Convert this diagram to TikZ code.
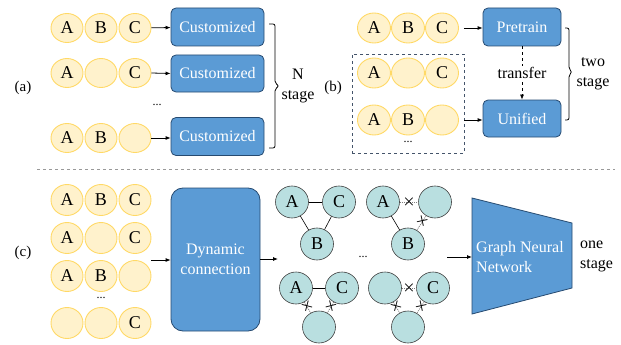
\documentclass[tikz,border=0pt]{standalone}
\usepackage{fontspec}
\setmainfont{Liberation Serif}
\usetikzlibrary{shapes.geometric,arrows.meta}
\definecolor{yfill}{HTML}{FFF2CC}
\definecolor{ydraw}{HTML}{FFD966}
\definecolor{bfill}{HTML}{5B9BD5}
\definecolor{bdraw}{HTML}{264A70}
\definecolor{tfill}{HTML}{B9DFE0}
\definecolor{tdraw}{HTML}{404040}
\definecolor{navy}{HTML}{44546A}
\tikzset{
  ycirc/.style={ellipse, fill=yfill, draw=ydraw, line width=0.9pt, minimum width=32pt, minimum height=29pt, inner sep=0pt, font=\rmfamily\fontsize{18}{20}\selectfont},
  bbox/.style={rectangle, rounded corners=5pt, fill=bfill, draw=bdraw, line width=0.8pt, text=white, font=\rmfamily\fontsize{16}{18}\selectfont, inner sep=0pt},
  tcirc/.style={ellipse, fill=tfill, draw=tdraw, line width=0.6pt, minimum width=33pt, minimum height=32pt, inner sep=0pt, font=\rmfamily\fontsize{18}{20}\selectfont},
  arr/.style={-{Latex[length=5pt,width=4pt]}, line width=0.8pt},
  lbl/.style={font=\rmfamily\fontsize{16}{20}\selectfont, inner sep=0pt, align=center},
  plbl/.style={font=\rmfamily\fontsize{15}{18}\selectfont, inner sep=0pt},
  dotsl/.style={font=\rmfamily\fontsize{12}{14}\selectfont, inner sep=0pt},
  sol/.style={draw=black, line width=0.6pt},
  cut/.style={draw=gray, dash pattern=on 1pt off 1pt, line width=0.8pt},
  xmark/.style={sloped, inner sep=0pt, font=\fontsize{14}{14}\selectfont},
  brk/.style={draw=black, line width=0.8pt, rounded corners=2pt},
}
\newcommand{\cutx}{$\boldsymbol{\times}$}
\usepackage{amsmath}
\begin{document}
\begin{tikzpicture}[x=1pt,y=-1pt]
\useasboundingbox (0,0) rectangle (621,345);
% ---------- (a)
\node[plbl] (la) at (23,88) {(a)};
\node[ycirc] (a1A) at (67,28) {A};
\node[ycirc] (a1B) at (101,28) {B};
\node[ycirc] (a1C) at (135,28) {C};
\node[ycirc] (a2A) at (67,73) {A};
\node[ycirc] (a2B) at (101,73) {};
\node[ycirc] (a2C) at (135,73) {C};
\node[ycirc] (a3A) at (67,138) {A};
\node[ycirc] (a3B) at (101,138) {B};
\node[ycirc] (a3C) at (135,138) {};
\node[dotsl] (adots) at (157,105) {...};
\node[bbox, minimum width=93pt, minimum height=38pt] (c1) at (217.5,27) {Customized};
\node[bbox, minimum width=93pt, minimum height=37pt] (c2) at (217.5,73.5) {Customized};
\node[bbox, minimum width=93pt, minimum height=38pt] (c3) at (217.5,136.5) {Customized};
\draw[arr] (a1C) -- (c1);
\draw[arr] (a2C.east) -- (c2.west);
\draw[arr] (a3C.east) -- (c3.west |- a3C.east);
\draw[brk] (269,24) -- (275,24) -- (275,83) -- (279,86) -- (275,89) -- (275,148) -- (269,148);
\node[lbl] (na) at (298,86) {N\\stage};
% ---------- (b)
\node[plbl] (lb) at (333,88) {(b)};
\node[ycirc, minimum width=33pt, minimum height=30pt] (b1A) at (374,28) {A};
\node[ycirc, minimum width=33pt, minimum height=30pt] (b1B) at (408,28) {B};
\node[ycirc, minimum width=33pt, minimum height=30pt] (b1C) at (442,28) {C};
\node[ycirc, minimum width=33pt, minimum height=30pt] (b2A) at (374,73) {A};
\node[ycirc, minimum width=33pt, minimum height=30pt] (b2B) at (408,73) {};
\node[ycirc, minimum width=33pt, minimum height=30pt] (b2C) at (442,73) {C};
\node[ycirc, minimum width=33pt, minimum height=30pt] (b3A) at (374,120) {A};
\node[ycirc, minimum width=33pt, minimum height=30pt] (b3B) at (408,120) {B};
\node[ycirc, minimum width=33pt, minimum height=30pt] (b3C) at (442,120) {};
\node[dotsl] (bdots) at (408,142) {...};
\node[draw=navy, dashed, line width=0.9pt, minimum width=112pt, minimum height=99pt, inner sep=0pt] (dbox) at (408,103.5) {};
\node[bbox, minimum width=78pt, minimum height=38pt] (pre) at (522,27) {Pretrain};
\node[bbox, minimum width=78pt, minimum height=37pt] (uni) at (522,118.5) {Unified};
\draw[arr] (b1C.east) ++(5,0) coordinate (b1s) (b1s) -- (pre.west |- b1s);
\draw[arr] (dbox.east |- b3C) -- (uni.west |- b3C);
\draw[arr, dashed, line width=0.7pt] (pre.south) -- (uni.north);
\node[lbl, fill=white, inner sep=1pt] (tr) at (522,73) {transfer};
\draw[brk] (565,28) -- (569,28) -- (569,69) -- (572,72) -- (569,75) -- (569,120) -- (565,120);
\node[lbl] (nb) at (593,74) {two\\stage};
% ---------- separator
\draw[dashed, draw=gray!80, line width=0.9pt] (37,169) -- (615,169);
% ---------- (c)
\node[plbl] (lc) at (23,253) {(c)};
\node[ycirc, minimum height=31pt] (r1A) at (67,200) {A};
\node[ycirc, minimum height=31pt] (r1B) at (101,200) {B};
\node[ycirc, minimum height=31pt] (r1C) at (135,200) {C};
\node[ycirc, minimum height=31pt] (r2A) at (67,238) {A};
\node[ycirc, minimum height=31pt] (r2B) at (101,238) {};
\node[ycirc, minimum height=31pt] (r2C) at (135,238) {C};
\node[ycirc, minimum height=31pt] (r3A) at (67,276) {A};
\node[ycirc, minimum height=31pt] (r3B) at (101,276) {B};
\node[ycirc, minimum height=31pt] (r3C) at (135,276) {};
\node[dotsl] (cdots) at (101,298) {...};
\node[ycirc, minimum height=31pt] (r4A) at (67,323) {};
\node[ycirc, minimum height=31pt] (r4B) at (101,323) {};
\node[ycirc, minimum height=31pt] (r4C) at (135,323) {C};
\node[bbox, rounded corners=12pt, minimum width=89pt, minimum height=143pt, align=center, font=\rmfamily\fontsize{16}{20}\selectfont] (dyn) at (215.5,259.5) {Dynamic\\connection};
\coordinate (cin) at (151,260);
\draw[arr] (cin) -- (dyn.west |- cin);
\coordinate (cout) at (278,259);
\draw[arr] (dyn.east |- cout) -- (cout);
% graph 1
\node[tcirc] (g1A) at (292,202) {A};
\node[tcirc] (g1C) at (339,202) {C};
\node[tcirc] (g1B) at (317,244) {B};
\draw[sol] (g1A) -- (g1C);
\draw[sol] (g1A) -- (g1B);
\draw[sol] (g1C) -- (g1B);
% graph 2
\node[tcirc] (g2A) at (383,202) {A};
\node[tcirc] (g2C) at (435,202) {};
\node[tcirc] (g2B) at (408,244) {B};
\draw[cut] (g2A) -- node[xmark] {\cutx} (g2C);
\draw[sol] (g2A) -- (g2B);
\draw[cut] (g2B) -- node[xmark, pos=0.6] {\cutx} (g2C);
% graph 3
\node[tcirc] (g3A) at (296,288) {A};
\node[tcirc] (g3C) at (342,288) {C};
\node[tcirc] (g3B) at (319,327) {};
\draw[sol] (g3A) -- (g3C);
\draw[cut] (g3A) -- node[xmark, pos=0.4] {\cutx} (g3B);
\draw[cut] (g3C) -- node[xmark, pos=0.4] {\cutx} (g3B);
% graph 4
\node[tcirc] (g4A) at (385,288) {};
\node[tcirc] (g4C) at (433,288) {C};
\node[tcirc] (g4B) at (408,327) {};
\draw[cut] (g4A) -- node[xmark] {\cutx} (g4C);
\draw[cut] (g4A) -- node[xmark, pos=0.4] {\cutx} (g4B);
\draw[cut] (g4C) -- node[xmark, pos=0.4] {\cutx} (g4B);
\node[dotsl] (gdots) at (363,257) {...};
% GNN
\draw[fill=bfill, draw=bdraw, line width=0.8pt] (472,198) -- (572,223) -- (572,288) -- (472,314) -- cycle;
\coordinate (gin) at (472,257);
\coordinate (gfrom) at (447,257);
\draw[arr] (gfrom) -- (gin);
\node[lbl, anchor=west, align=left, text=white] (gnn) at (476,257) {Graph Neural\\Network};
\node[lbl, anchor=west, align=left] (nc) at (580,256) {one\\stage};
\end{tikzpicture}
\end{document}
